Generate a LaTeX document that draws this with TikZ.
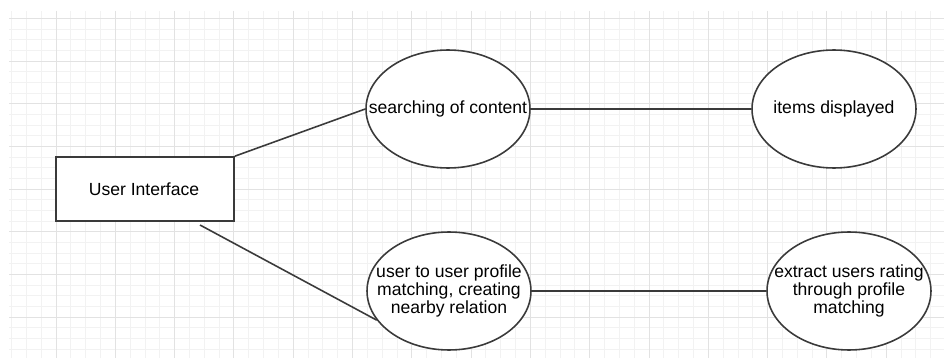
\documentclass[tikz,border=0pt]{standalone}
\usepackage{fontspec}
\setmainfont{Liberation Sans}
\usepackage{tikz}
\usetikzlibrary{shapes.geometric, positioning}
\usepackage{xcolor}
\definecolor{gridmajor}{HTML}{E2E2E2}
\definecolor{gridminor}{HTML}{F2F2F2}
\definecolor{edgecol}{HTML}{3A3A3A}

\begin{document}
\begin{tikzpicture}[x=0.02cm, y=-0.02cm,
		minorline/.style={gridminor, line width=0.5pt},
		majorline/.style={gridmajor, line width=0.5pt},
		uibox/.style={draw=edgecol, fill=white, line width=0.9pt, rectangle, minimum width=3.56cm, minimum height=1.28cm, inner sep=0pt},
		bubble/.style={draw=edgecol, fill=white, line width=0.9pt, ellipse, minimum width=3.28cm, minimum height=2.36cm, inner sep=0pt},
		txt/.style={align=center, inner sep=0pt, font=\fontsize{10}{8.6}\selectfont},
		link/.style={edgecol, line width=0.9pt}]
				\useasboundingbox (0,0) rectangle (944,358);
				% grid
				\foreach \i in {-3,...,59} \draw[minorline] ({56+14.825*\i},11) -- ({56+14.825*\i},358);
				\foreach \j in {0,...,31} \draw[minorline] (9,{18.3+10.675*\j}) -- (944,{18.3+10.675*\j});
				\foreach \i in {0,...,14} \draw[majorline] ({56+59.3*\i},11) -- ({56+59.3*\i},358);
				\foreach \j in {0,...,7} \draw[majorline] (9,{18.3+42.7*\j}) -- (944,{18.3+42.7*\j});
				% shapes
				\node[uibox] (ui) at (145,189) {};
				\node[txt] (uiTxt) at (144,189) {User Interface};
				\node[bubble] (search) at (448,109) {};
				\node[txt] (searchTxt) at (search) {searching of content};
				\node[bubble] (items) at (834,109) {};
				\node[txt] (itemsTxt) at (items) {items displayed};
				\node[bubble] (match) at (449,291) {};
				\node[txt] (matchTxt) at (match) {user to user profile\\matching, creating\\nearby relation};
				\node[bubble] (rating) at (849,291) {};
				\node[txt] (ratingTxt) at (rating) {extract users rating\\through profile\\matching};
				\coordinate (uiTail) at (200,225);
				% links
				\draw[link] (ui.north east) -- (search.west);
				\draw[link] (search.east) -- (items.west);
				\draw[link] (uiTail) -- (match.202);
				\draw[link] (match.east) -- (rating.west);
			\end{tikzpicture}
\end{document}
